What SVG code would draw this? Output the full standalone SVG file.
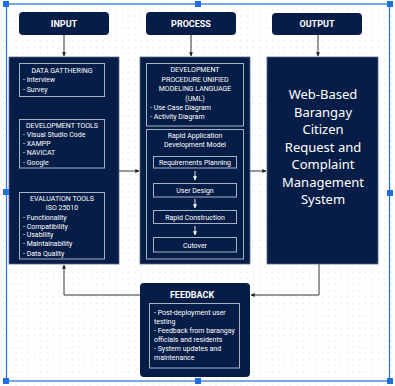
<svg xmlns="http://www.w3.org/2000/svg" width="395" height="386" viewBox="0 0 395 386">
  <defs>
    <pattern id="dots" x="0.5" y="0.5" width="6.25" height="6.25" patternUnits="userSpaceOnUse">
      <circle cx="3" cy="3" r="0.75" fill="#e4e4e8"/>
    </pattern>
    <marker id="arrow" viewBox="0 0 6 6" refX="5.5" refY="3" markerWidth="4" markerHeight="4" orient="auto" markerUnits="userSpaceOnUse">
      <path d="M0,0 L6,3 L0,6 z" fill="#222"/>
    </marker>
    <marker id="arrowW" viewBox="0 0 6 6" refX="5.5" refY="3" markerWidth="4" markerHeight="4" orient="auto" markerUnits="userSpaceOnUse">
      <path d="M0,0 L6,3 L0,6 z" fill="#ffffff"/>
    </marker>
  </defs>
  <style>
    .navy { fill: #061d47; }
    .panel { fill: #061d47; stroke: #5a6a88; stroke-width: 0.8; }
    .inner { fill: none; stroke: #a9b3c6; stroke-width: 1; }
    .head { font-family: Roboto, "Liberation Sans", sans-serif; font-weight: bold; font-size: 9px; fill: #ffffff; text-anchor: middle; }
    .t { font-family: Roboto, "Liberation Sans", sans-serif; font-size: 7px; fill: #ffffff; }
    .c { text-anchor: middle; }
    .big { font-family: "Noto Sans", "Open Sans", sans-serif; font-size: 13px; fill: #ffffff; text-anchor: middle; }
    .wire { fill: none; stroke: #333333; stroke-width: 1; }
    .step-arrow { stroke: #ffffff; stroke-width: 0.9; fill: none; }
    .sel { fill: none; stroke: #1f6fe0; stroke-width: 1.2; }
    .handle { fill: #1f6fe0; }
  </style>

  <!-- canvas -->
  <rect x="0" y="0" width="395" height="386" fill="#ffffff"/>
  <rect x="0" y="0" width="395" height="386" fill="url(#dots)"/>

  <!-- connectors -->
  <g id="connectors">
    <line class="wire" x1="64" y1="35" x2="64" y2="56" marker-end="url(#arrow)"/>
    <line class="wire" x1="191" y1="35" x2="191" y2="56" marker-end="url(#arrow)"/>
    <line class="wire" x1="318" y1="35" x2="318" y2="56" marker-end="url(#arrow)"/>
    <line class="wire" x1="119" y1="171" x2="139" y2="171" marker-end="url(#arrow)"/>
    <line class="wire" x1="250" y1="171" x2="266" y2="171" marker-end="url(#arrow)"/>
    <polyline class="wire" points="319,264 319,295 251,295" marker-end="url(#arrow)"/>
    <polyline class="wire" points="140,295 64,295 64,265" marker-end="url(#arrow)"/>
  </g>

  <!-- headers -->
  <g id="input-header">
    <rect class="navy" x="19" y="12" width="90" height="23" rx="4"/>
    <text class="head" x="64" y="27">INPUT</text>
  </g>
  <g id="process-header">
    <rect class="navy" x="146" y="12" width="90" height="23" rx="4"/>
    <text class="head" x="191" y="27">PROCESS</text>
  </g>
  <g id="output-header">
    <rect class="navy" x="272" y="13" width="90" height="22" rx="4"/>
    <text class="head" x="317" y="27">OUTPUT</text>
  </g>

  <!-- input column -->
  <g id="input">
    <rect class="panel" x="9" y="57" width="110" height="207"/>
    <rect class="inner" x="19.5" y="63.5" width="85" height="33"/>
    <text class="t c" x="62" y="73">DATA GATTHERING</text>
    <text class="t" x="23" y="82">- Interview</text>
    <text class="t" x="23" y="91.5">- Survey</text>

    <rect class="inner" x="19.5" y="119.5" width="85" height="48.5"/>
    <text class="t c" x="62" y="128">DEVELOPMENT TOOLS</text>
    <text class="t" x="23" y="137">- Visual Studio Code</text>
    <text class="t" x="23" y="146">- XAMPP</text>
    <text class="t" x="23" y="155">- NAVICAT</text>
    <text class="t" x="23" y="164.5">- Google</text>

    <rect class="inner" x="19.5" y="192.5" width="85" height="66.5"/>
    <text class="t c" x="62" y="201">EVALUATION TOOLS</text>
    <text class="t c" x="62" y="210">ISO 25010</text>
    <text class="t" x="23" y="219.5">- Functionality</text>
    <text class="t" x="23" y="228.5">- Compatibility</text>
    <text class="t" x="23" y="237">- Usability</text>
    <text class="t" x="23" y="246">- Maintainability</text>
    <text class="t" x="23" y="255.5">- Data Quality</text>
  </g>

  <!-- process column -->
  <g id="process">
    <rect class="panel" x="140" y="57" width="110" height="207"/>
    <rect class="inner" x="146.5" y="63.5" width="97" height="62.5"/>
    <text class="t c" x="195" y="72">DEVELOPMENT</text>
    <text class="t c" x="195" y="81.5">PROCEDURE UNIFIED</text>
    <text class="t c" x="195" y="91">MODELING LANGUAGE</text>
    <text class="t c" x="195" y="100.5">(UML)</text>
    <text class="t" x="150" y="110">- Use Case Diagram</text>
    <text class="t" x="150" y="119">- Activity Diagram</text>

    <rect class="inner" x="146.5" y="129.5" width="97" height="129.5"/>
    <text class="t c" x="195" y="137.5">Rapid Application</text>
    <text class="t c" x="195" y="146.5">Development Model</text>
  </g>

  <g id="step-requirements">
    <rect class="inner" x="153.5" y="156.5" width="83" height="11.5"/>
    <text class="t c" x="195" y="164.8">Requirements Planning</text>
  </g>
  <g id="step-design">
    <rect class="inner" x="153.5" y="183.5" width="83" height="13.5"/>
    <text class="t c" x="195" y="192.5">User Design</text>
  </g>
  <g id="step-construction">
    <rect class="inner" x="153.5" y="210.5" width="83" height="13"/>
    <text class="t c" x="195" y="219.5">Rapid Construction</text>
  </g>
  <g id="step-cutover">
    <rect class="inner" x="153.5" y="237.5" width="83" height="14.5"/>
    <text class="t c" x="195" y="247.5">Cutover</text>
  </g>
  <g id="step-connectors">
    <line class="step-arrow" x1="195" y1="171" x2="195" y2="180" marker-end="url(#arrowW)"/>
    <line class="step-arrow" x1="195" y1="199" x2="195" y2="208" marker-end="url(#arrowW)"/>
    <line class="step-arrow" x1="195" y1="226" x2="195" y2="235" marker-end="url(#arrowW)"/>
  </g>

  <!-- output column -->
  <g id="output">
    <rect class="panel" x="267" y="57" width="111" height="207"/>
    <text class="big" x="323" y="99">Web-Based</text>
    <text class="big" x="323" y="116.5">Barangay</text>
    <text class="big" x="323" y="134">Citizen</text>
    <text class="big" x="323" y="151.5">Request and</text>
    <text class="big" x="323" y="169">Complaint</text>
    <text class="big" x="323" y="186.5">Management</text>
    <text class="big" x="323" y="204">System</text>
  </g>

  <!-- feedback loop -->
  <g id="feedback">
    <rect class="navy" x="140" y="283" width="110" height="94" rx="4"/>
    <text class="head" x="192" y="298">FEEDBACK</text>
    <rect class="inner" x="149.5" y="303.5" width="90" height="64.5"/>
    <text class="t" x="154" y="314.5">- Post-deployment user</text>
    <text class="t" x="154" y="323.5">testing</text>
    <text class="t" x="154" y="332.5">- Feedback from barangay</text>
    <text class="t" x="154" y="341.5">officials and residents</text>
    <text class="t" x="154" y="351">- System updates and</text>
    <text class="t" x="154" y="360">maintenance</text>
  </g>

  <!-- selection frame -->
  <g id="selection">
    <rect class="sel" x="6.5" y="4" width="383" height="377"/>
    <rect class="handle" x="3" y="1" width="6" height="6"/>
    <rect class="handle" x="195" y="1" width="6" height="6"/>
    <rect class="handle" x="387" y="1" width="6" height="6"/>
    <rect class="handle" x="3" y="189" width="6" height="6"/>
    <rect class="handle" x="387" y="190" width="6" height="6"/>
    <rect class="handle" x="3" y="378" width="6" height="6"/>
    <rect class="handle" x="195" y="378" width="6" height="6"/>
    <rect class="handle" x="387" y="378" width="6" height="6"/>
  </g>
</svg>
